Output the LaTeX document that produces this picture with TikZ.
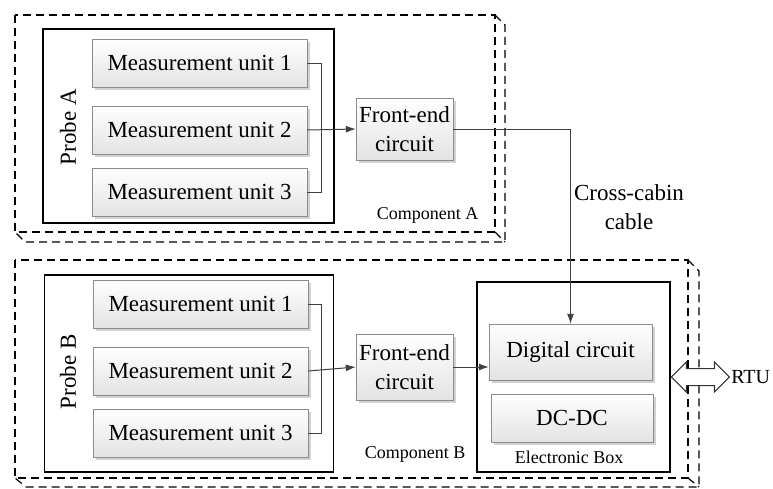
\documentclass[tikz,border=0pt]{standalone}
\usepackage{fontspec}
\setmainfont{Liberation Serif}
\newfontfamily\figfont{Liberation Serif}
\usetikzlibrary{arrows.meta,shadows,shapes.arrows}

\tikzset{
  unit/.style={draw=black!45, top color=white, bottom color=black!11, inner sep=2pt,
    minimum width=215pt, minimum height=48pt, align=center,
    drop shadow={shadow xshift=2.5pt, shadow yshift=-2.5pt, fill=black!35, opacity=0.5},
    font=\figfont\fontsize{23}{29}\selectfont},
  holder/.style={draw, line width=1.4pt, inner sep=0pt},
  comp/.style={draw, dash pattern=on 8pt off 5pt, line width=1.2pt},
  wire/.style={draw=black!75, line width=1pt},
  tag/.style={inner sep=0pt, font=\figfont\fontsize{18}{22}\selectfont},
  dbl/.style={double arrow, draw=black!80, fill=white, line width=1pt,
    inner xsep=0pt, inner ysep=8pt, minimum height=58pt, double arrow head extend=6.5pt}
}

\begin{document}
\begin{tikzpicture}[x=1pt,y=-1pt,>={Latex[length=10pt,width=7pt]}]
  \useasboundingbox (0,0) rectangle (773,488);

  \draw[comp] (15,15) rectangle (495,232);
  \draw[comp] (495,15) -- (505,25) -- (505,242) -- (25,242) -- (15,232);
  \draw[comp] (495,232) -- (505,242);

  \draw[comp] (15,260) rectangle (688,478);
  \draw[comp] (688,260) -- (699,271) -- (699,487) -- (26,487) -- (15,478);
  \draw[comp] (688,478) -- (699,487);

  \node[holder, minimum width=291pt, minimum height=194pt] (pbxa) at (188.5,126) {};
  \node[holder, minimum width=289pt, minimum height=197pt] (pbxb) at (189,373.5) {};
  \node[holder, minimum width=193pt, minimum height=190pt] (ebox) at (573.5,377) {};

  \node[rotate=90, font=\figfont\fontsize{23}{29}\selectfont] (pa) at (68,127) {Probe A};
  \node[rotate=90, font=\figfont\fontsize{23}{29}\selectfont] (pb) at (68,372) {Probe B};

  \node[unit] (ua1) at (199.5,63)  {Measurement unit 1};
  \node[unit] (ua2) at (199.5,130) {Measurement unit 2};
  \node[unit] (ua3) at (199.5,192) {Measurement unit 3};

  \node[unit] (ub1) at (200.5,304) {Measurement unit 1};
  \node[unit] (ub2) at (200.5,371) {Measurement unit 2};
  \node[unit] (ub3) at (200.5,433) {Measurement unit 3};

  \node[unit, minimum width=97pt, minimum height=62pt] (fa) at (404.5,129) {Front-end\\circuit};
  \node[unit, minimum width=97pt, minimum height=66pt] (fb) at (404.5,367) {Front-end\\circuit};

  \node[unit, minimum width=163pt, minimum height=56pt] (dig) at (570.5,352) {Digital circuit};
  \node[unit, minimum width=162pt, minimum height=48pt] (dcdc) at (572,418) {DC-DC};

  \node[tag] (compa) at (427.5,215) {Component A};
  \node[tag] (compb) at (415,454) {Component B};
  \node[tag] (eboxl) at (569,457) {Electronic Box};

  \node[align=center, inner sep=0pt, font=\figfont\fontsize{23}{29}\selectfont] (cable) at (629,207) {Cross-cabin\\cable};

  \node[dbl, anchor=west] (link) at (ebox.east) {};
  \node[anchor=west, inner sep=1pt, font=\figfont\fontsize{20}{24}\selectfont] (rtu) at (link.east) {RTU};

  \draw[wire] (ua1.east) -- ++(14,0) |- (ua3.east);
  \draw[wire,->] (ua2.east) -- (fa.west);
  \draw[wire] (ub1.east) -- ++(13,0) |- (ub3.east);
  \draw[wire,->] (ub2.east) -- (fb.west);

  \draw[wire,->] (fa.east) -| (dig.north);
  \draw[wire,->] (fb.east) -- (fb.east -| dig.west);
\end{tikzpicture}
\end{document}
